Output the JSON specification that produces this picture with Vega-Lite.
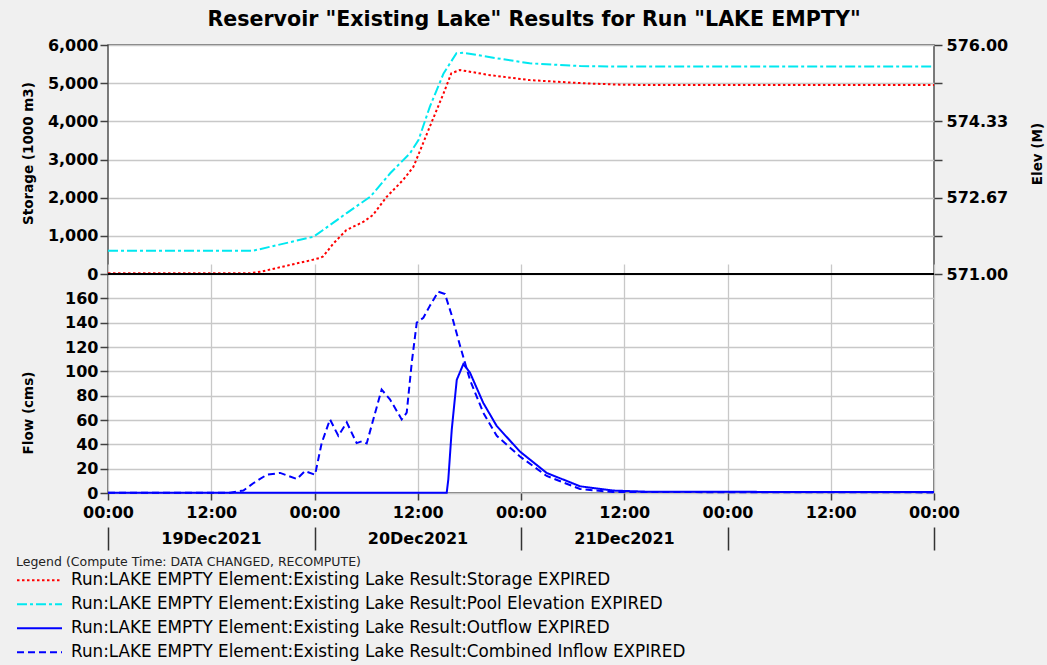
{
  "$schema": "https://vega.github.io/schema/vega-lite/v6.json",
  "width": 826,
  "height": 448,
  "autosize": {"type": "none"},
  "padding": {"left": 108, "top": 45, "right": 113, "bottom": 172},
  "background": "#f0f0f0",
  "title": {
    "text": "Reservoir \"Existing Lake\" Results for Run \"LAKE EMPTY\"",
    "font": "DejaVu Sans", "fontSize": 20.6, "fontWeight": "bold", "color": "#000",
    "anchor": "middle", "frame": "group", "dx": 13, "offset": 6
  },
  "config": {
    "font": "DejaVu Sans",
    "view": {"fill": "white", "stroke": "#505050", "strokeWidth": 1.5},
    "axis": {
      "labelFont": "DejaVu Sans", "labelFontSize": 16, "labelFontWeight": "bold", "labelColor": "#000",
      "titleFont": "DejaVu Sans", "titleFontSize": 13.5, "titleFontWeight": "bold", "titleColor": "#000",
      "tickColor": "#404040", "tickWidth": 1.5, "domain": false,
      "gridColor": "#c8c8c8", "gridWidth": 1.3,
      "labelFlush": false, "labelOverlap": false, "labelBound": false
    },
    "legend": {
      "symbolType": "stroke", "symbolSize": 2025, "symbolStrokeWidth": 2,
      "labelFont": "DejaVu Sans", "labelFontSize": 16.8, "labelColor": "#000", "labelLimit": 1000, "labelOffset": 8,
      "titleFont": "DejaVu Sans", "titleFontSize": 12.5, "titleFontWeight": "normal", "titleColor": "#222",
      "titleLimit": 1000, "titlePadding": 0, "clipHeight": 23.6, "rowPadding": 0, "padding": 0, "offset": 0
    }
  },
  "data": {"values": [
    {"t": "2021-12-19T00:00", "s": "Storage", "v": 20},
    {"t": "2021-12-19T16:30", "s": "Storage", "v": 20},
    {"t": "2021-12-19T17:45", "s": "Storage", "v": 60},
    {"t": "2021-12-19T22:00", "s": "Storage", "v": 280},
    {"t": "2021-12-19T23:45", "s": "Storage", "v": 370},
    {"t": "2021-12-20T00:36", "s": "Storage", "v": 420},
    {"t": "2021-12-20T01:00", "s": "Storage", "v": 460},
    {"t": "2021-12-20T02:12", "s": "Storage", "v": 800},
    {"t": "2021-12-20T03:42", "s": "Storage", "v": 1150},
    {"t": "2021-12-20T05:42", "s": "Storage", "v": 1370},
    {"t": "2021-12-20T06:48", "s": "Storage", "v": 1546},
    {"t": "2021-12-20T08:24", "s": "Storage", "v": 2025},
    {"t": "2021-12-20T10:18", "s": "Storage", "v": 2463},
    {"t": "2021-12-20T11:30", "s": "Storage", "v": 2811},
    {"t": "2021-12-20T12:18", "s": "Storage", "v": 3249},
    {"t": "2021-12-20T13:24", "s": "Storage", "v": 3859},
    {"t": "2021-12-20T15:00", "s": "Storage", "v": 4734},
    {"t": "2021-12-20T15:54", "s": "Storage", "v": 5258},
    {"t": "2021-12-20T16:54", "s": "Storage", "v": 5345},
    {"t": "2021-12-20T20:24", "s": "Storage", "v": 5210},
    {"t": "2021-12-21T01:00", "s": "Storage", "v": 5080},
    {"t": "2021-12-21T07:00", "s": "Storage", "v": 5000},
    {"t": "2021-12-21T11:30", "s": "Storage", "v": 4960},
    {"t": "2021-12-21T15:00", "s": "Storage", "v": 4950},
    {"t": "2021-12-23T00:00", "s": "Storage", "v": 4950},

    {"t": "2021-12-19T00:00", "s": "Pool Elevation", "v": 571.51},
    {"t": "2021-12-19T16:54", "s": "Pool Elevation", "v": 571.51},
    {"t": "2021-12-19T23:54", "s": "Pool Elevation", "v": 571.815},
    {"t": "2021-12-20T01:00", "s": "Pool Elevation", "v": 571.96},
    {"t": "2021-12-20T03:42", "s": "Pool Elevation", "v": 572.325},
    {"t": "2021-12-20T06:30", "s": "Pool Elevation", "v": 572.69},
    {"t": "2021-12-20T08:48", "s": "Pool Elevation", "v": 573.2},
    {"t": "2021-12-20T11:06", "s": "Pool Elevation", "v": 573.635},
    {"t": "2021-12-20T12:06", "s": "Pool Elevation", "v": 573.93},
    {"t": "2021-12-20T13:24", "s": "Pool Elevation", "v": 574.65},
    {"t": "2021-12-20T15:00", "s": "Pool Elevation", "v": 575.38},
    {"t": "2021-12-20T16:30", "s": "Pool Elevation", "v": 575.82},
    {"t": "2021-12-20T17:18", "s": "Pool Elevation", "v": 575.83},
    {"t": "2021-12-20T21:12", "s": "Pool Elevation", "v": 575.71},
    {"t": "2021-12-21T01:00", "s": "Pool Elevation", "v": 575.6},
    {"t": "2021-12-21T06:54", "s": "Pool Elevation", "v": 575.54},
    {"t": "2021-12-21T11:30", "s": "Pool Elevation", "v": 575.53},
    {"t": "2021-12-23T00:00", "s": "Pool Elevation", "v": 575.53},

    {"t": "2021-12-19T00:00", "s": "Combined Inflow", "v": 0.3},
    {"t": "2021-12-19T14:11", "s": "Combined Inflow", "v": 0.3},
    {"t": "2021-12-19T15:44", "s": "Combined Inflow", "v": 2},
    {"t": "2021-12-19T16:53", "s": "Combined Inflow", "v": 8},
    {"t": "2021-12-19T18:27", "s": "Combined Inflow", "v": 15},
    {"t": "2021-12-19T20:00", "s": "Combined Inflow", "v": 16.5},
    {"t": "2021-12-19T21:56", "s": "Combined Inflow", "v": 11.5},
    {"t": "2021-12-19T22:54", "s": "Combined Inflow", "v": 18},
    {"t": "2021-12-20T00:04", "s": "Combined Inflow", "v": 15},
    {"t": "2021-12-20T00:50", "s": "Combined Inflow", "v": 41},
    {"t": "2021-12-20T01:48", "s": "Combined Inflow", "v": 60.5},
    {"t": "2021-12-20T02:46", "s": "Combined Inflow", "v": 47},
    {"t": "2021-12-20T03:45", "s": "Combined Inflow", "v": 58},
    {"t": "2021-12-20T04:54", "s": "Combined Inflow", "v": 41},
    {"t": "2021-12-20T05:29", "s": "Combined Inflow", "v": 42.5},
    {"t": "2021-12-20T06:04", "s": "Combined Inflow", "v": 40.7},
    {"t": "2021-12-20T06:50", "s": "Combined Inflow", "v": 60.5},
    {"t": "2021-12-20T07:48", "s": "Combined Inflow", "v": 85},
    {"t": "2021-12-20T08:46", "s": "Combined Inflow", "v": 77},
    {"t": "2021-12-20T10:08", "s": "Combined Inflow", "v": 60.5},
    {"t": "2021-12-20T10:43", "s": "Combined Inflow", "v": 66},
    {"t": "2021-12-20T11:18", "s": "Combined Inflow", "v": 107},
    {"t": "2021-12-20T11:53", "s": "Combined Inflow", "v": 140},
    {"t": "2021-12-20T12:39", "s": "Combined Inflow", "v": 144},
    {"t": "2021-12-20T13:25", "s": "Combined Inflow", "v": 154},
    {"t": "2021-12-20T14:23", "s": "Combined Inflow", "v": 165.5},
    {"t": "2021-12-20T15:10", "s": "Combined Inflow", "v": 163.5},
    {"t": "2021-12-20T15:57", "s": "Combined Inflow", "v": 146},
    {"t": "2021-12-20T16:55", "s": "Combined Inflow", "v": 121},
    {"t": "2021-12-20T18:04", "s": "Combined Inflow", "v": 93},
    {"t": "2021-12-20T19:37", "s": "Combined Inflow", "v": 66},
    {"t": "2021-12-20T21:11", "s": "Combined Inflow", "v": 47},
    {"t": "2021-12-20T23:53", "s": "Combined Inflow", "v": 30},
    {"t": "2021-12-21T02:59", "s": "Combined Inflow", "v": 14},
    {"t": "2021-12-21T06:52", "s": "Combined Inflow", "v": 3.3},
    {"t": "2021-12-21T10:41", "s": "Combined Inflow", "v": 0.8},
    {"t": "2021-12-23T00:00", "s": "Combined Inflow", "v": 0.5},

    {"t": "2021-12-19T00:00", "s": "Outflow", "v": 0.3},
    {"t": "2021-12-20T15:22", "s": "Outflow", "v": 0.3},
    {"t": "2021-12-20T15:33", "s": "Outflow", "v": 11},
    {"t": "2021-12-20T15:57", "s": "Outflow", "v": 52},
    {"t": "2021-12-20T16:32", "s": "Outflow", "v": 93},
    {"t": "2021-12-20T17:18", "s": "Outflow", "v": 106},
    {"t": "2021-12-20T18:04", "s": "Outflow", "v": 99},
    {"t": "2021-12-20T19:37", "s": "Outflow", "v": 74},
    {"t": "2021-12-20T21:11", "s": "Outflow", "v": 55},
    {"t": "2021-12-20T23:53", "s": "Outflow", "v": 34},
    {"t": "2021-12-21T02:59", "s": "Outflow", "v": 16.5},
    {"t": "2021-12-21T06:52", "s": "Outflow", "v": 5.5},
    {"t": "2021-12-21T10:44", "s": "Outflow", "v": 2},
    {"t": "2021-12-21T15:00", "s": "Outflow", "v": 1},
    {"t": "2021-12-23T00:00", "s": "Outflow", "v": 0.8}
  ]},
  "resolve": {"scale": {"y": "independent"}, "axis": {"x": "independent"}},
  "layer": [
    {
      "transform": [{"filter": "datum.s == 'Storage'"}],
      "mark": {"type": "line", "strokeWidth": 2},
      "encoding": {
        "x": {"field": "t", "type": "temporal",
          "scale": {"domain": [{"year": 2021, "month": 12, "date": 19, "hours": 0}, {"year": 2021, "month": 12, "date": 23, "hours": 0}]},
          "axis": {"orient": "bottom", "title": null, "offset": 34, "tickSize": 23, "labelPadding": -20, "labelOffset": 103, "grid": false,
            "tickColor": "#333", "tickWidth": 1.5,
            "values": [{"year": 2021, "month": 12, "date": 19, "hours": 0}, {"year": 2021, "month": 12, "date": 20, "hours": 0}, {"year": 2021, "month": 12, "date": 21, "hours": 0},
              {"year": 2021, "month": 12, "date": 22, "hours": 0}, {"year": 2021, "month": 12, "date": 23, "hours": 0}],
            "labelExpr": "datum.value < datetime(2021, 11, 21, 12) ? timeFormat(datum.value, '%d%b%Y') : ''"}},
        "y": {"field": "v", "type": "quantitative",
          "scale": {"domain": [0, 6000], "range": [229, 0], "nice": false, "zero": false},
          "axis": {"orient": "left", "values": [0, 1000, 2000, 3000, 4000, 5000, 6000],
            "labelExpr": "format(datum.value, ',.0f')", "tickSize": 8, "labelPadding": 2, "grid": true,
            "title": "Storage (1000 m3)", "titleX": -80, "titleY": 108, "titleAngle": 270, "titleBaseline": "middle", "titleAlign": "center"}},
        "color": {"field": "s", "type": "nominal", "title": "Legend (Compute Time: DATA CHANGED, RECOMPUTE)",
          "scale": {"domain": ["Storage", "Pool Elevation", "Outflow", "Combined Inflow"], "range": ["#ff0000", "#00e8f0", "#0000ff", "#0000ff"]},
          "legend": {"orient": "none", "legendX": -92, "legendY": 511, "direction": "vertical",
            "labelExpr": "'Run:LAKE EMPTY Element:Existing Lake Result:' + datum.label + ' EXPIRED'"}},
        "strokeDash": {"field": "s", "type": "nominal", "title": "Legend (Compute Time: DATA CHANGED, RECOMPUTE)",
          "scale": {"domain": ["Storage", "Pool Elevation", "Outflow", "Combined Inflow"], "range": [[2.5, 2.5], [10, 3, 3, 3], [1, 0], [7, 4]]},
          "legend": {"orient": "none", "legendX": -92, "legendY": 511, "direction": "vertical",
            "labelExpr": "'Run:LAKE EMPTY Element:Existing Lake Result:' + datum.label + ' EXPIRED'"}}
      }
    },
    {
      "transform": [{"filter": "datum.s == 'Pool Elevation'"}],
      "mark": {"type": "line", "strokeWidth": 2},
      "encoding": {
        "x": {"field": "t", "type": "temporal",
          "scale": {"domain": [{"year": 2021, "month": 12, "date": 19, "hours": 0}, {"year": 2021, "month": 12, "date": 23, "hours": 0}]},
          "axis": {"orient": "bottom", "title": null, "format": "%H:%M", "tickSize": 7, "labelPadding": 4, "grid": true,
            "values": [
              {"year": 2021, "month": 12, "date": 19, "hours": 0}, {"year": 2021, "month": 12, "date": 19, "hours": 12},
              {"year": 2021, "month": 12, "date": 20, "hours": 0}, {"year": 2021, "month": 12, "date": 20, "hours": 12},
              {"year": 2021, "month": 12, "date": 21, "hours": 0}, {"year": 2021, "month": 12, "date": 21, "hours": 12},
              {"year": 2021, "month": 12, "date": 22, "hours": 0}, {"year": 2021, "month": 12, "date": 22, "hours": 12},
              {"year": 2021, "month": 12, "date": 23, "hours": 0}]}},
        "y": {"field": "v", "type": "quantitative",
          "scale": {"domain": [571, 576], "range": [229, 0], "nice": false, "zero": false},
          "axis": {"orient": "right", "values": [571, 571.8333, 572.6667, 573.5, 574.3333, 575.1667, 576], "tickSize": 8, "labelPadding": 4, "grid": false,
            "labelExpr": "round((datum.value - 571) * 6) % 2 == 0 ? format(datum.value, '.2f') : ''",
            "title": "Elev (M)", "titleX": 103.5, "titleY": 108.5, "titleAngle": 270, "titleBaseline": "middle", "titleAlign": "center"}},
        "color": {"field": "s", "type": "nominal", "title": "Legend (Compute Time: DATA CHANGED, RECOMPUTE)",
          "scale": {"domain": ["Storage", "Pool Elevation", "Outflow", "Combined Inflow"], "range": ["#ff0000", "#00e8f0", "#0000ff", "#0000ff"]}},
        "strokeDash": {"field": "s", "type": "nominal", "title": "Legend (Compute Time: DATA CHANGED, RECOMPUTE)",
          "scale": {"domain": ["Storage", "Pool Elevation", "Outflow", "Combined Inflow"], "range": [[2.5, 2.5], [10, 3, 3, 3], [1, 0], [7, 4]]}}
      }
    },
    {
      "layer": [
        {
          "transform": [{"filter": "datum.s == 'Outflow' || datum.s == 'Combined Inflow'"}],
          "mark": {"type": "line", "strokeWidth": 2},
          "encoding": {
            "x": {"field": "t", "type": "temporal",
              "scale": {"domain": [{"year": 2021, "month": 12, "date": 19, "hours": 0}, {"year": 2021, "month": 12, "date": 23, "hours": 0}]},
              "axis": null},
            "y": {"field": "v", "type": "quantitative",
              "scale": {"domain": [0, 180], "range": [448, 229], "nice": false, "zero": false},
              "axis": {"orient": "left", "values": [0, 20, 40, 60, 80, 100, 120, 140, 160], "tickSize": 8, "labelPadding": 2, "grid": true,
                "title": "Flow (cms)", "titleX": -80, "titleY": 367.5, "titleAngle": 270, "titleBaseline": "middle", "titleAlign": "center"}},
            "color": {"field": "s", "type": "nominal", "title": "Legend (Compute Time: DATA CHANGED, RECOMPUTE)",
              "scale": {"domain": ["Storage", "Pool Elevation", "Outflow", "Combined Inflow"], "range": ["#ff0000", "#00e8f0", "#0000ff", "#0000ff"]}},
            "strokeDash": {"field": "s", "type": "nominal", "title": "Legend (Compute Time: DATA CHANGED, RECOMPUTE)",
              "scale": {"domain": ["Storage", "Pool Elevation", "Outflow", "Combined Inflow"], "range": [[2.5, 2.5], [10, 3, 3, 3], [1, 0], [7, 4]]}}
          }
        },
        {
          "data": {"values": [{}]},
          "mark": {"type": "rule", "color": "#000", "strokeWidth": 2},
          "encoding": {"y": {"datum": 180, "type": "quantitative"}}
        }
      ]
    }
  ]
}
